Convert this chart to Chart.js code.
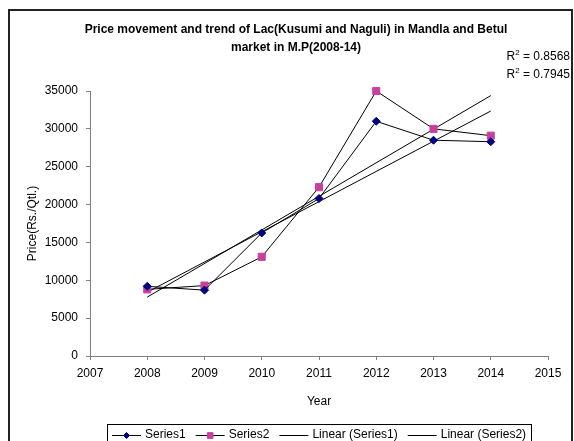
<!DOCTYPE html>
<html>
<head>
<meta charset="utf-8">
<script src="https://cdn.jsdelivr.net/npm/chart.js@4/dist/chart.umd.min.js"></script>
<style>
  html, body { margin: 0; padding: 0; background: #fff; }
  canvas { display: block; }
</style>
</head>
<body>
<canvas id="c" width="574" height="441"></canvas>
<script>
// ---- data ----
const years = [2008, 2009, 2010, 2011, 2012, 2013, 2014];
const series1 = [9200, 8700, 16250, 20800, 31000, 28500, 28300];
const series2 = [8800, 9300, 13100, 22300, 35000, 30000, 29100];
const seriesNames = ['Series1', 'Series2', 'Linear (Series1)', 'Linear (Series2)'];
const r2Labels = ['0.8568', '0.7945'];
const titleLines = ['Price movement and trend of Lac(Kusumi and Naguli) in Mandla and Betul', 'market in M.P(2008-14)'];
const yTicks = [0, 5000, 10000, 15000, 20000, 25000, 30000, 35000];
const xTicks = [2007, 2008, 2009, 2010, 2011, 2012, 2013, 2014, 2015];

// least-squares linear trend (as Excel's "Linear" trendline)
function trend(xs, ys) {
  const n = xs.length;
  const mx = xs.reduce((a, b) => a + b, 0) / n;
  const my = ys.reduce((a, b) => a + b, 0) / n;
  let sxy = 0, sxx = 0;
  for (let i = 0; i < n; i++) { sxy += (xs[i] - mx) * (ys[i] - my); sxx += (xs[i] - mx) ** 2; }
  const b = sxy / sxx, a = my - b * mx;
  return [xs[0], xs[n - 1]].map(x => ({ x, y: a + b * x }));
}
const pts = arr => years.map((x, i) => ({ x, y: arr[i] }));

const FONT = '"Liberation Sans", Arial, sans-serif';
const S1C = '#000080', S2C = '#C8409E';
const LEG_TOP = 424, LEG_Y = 435;

const decor = {
  id: 'decor',
  beforeDraw(chart) {
    const ctx = chart.ctx;
    ctx.save();
    ctx.fillStyle = '#fff';
    ctx.fillRect(0, 0, chart.width, chart.height);
    ctx.restore();
  },
  afterDraw(chart) {
    const ctx = chart.ctx;
    ctx.save();
    // outer border
    ctx.strokeStyle = '#222';
    ctx.lineWidth = 2;
    ctx.strokeRect(9, 10, 563, 450);
    // title
    ctx.fillStyle = '#000';
    ctx.font = 'bold 12px ' + FONT;
    ctx.textAlign = 'center';
    ctx.textBaseline = 'middle';
    ctx.fillText(titleLines[0], 296, 30);
    ctx.fillText(titleLines[1], 296, 48);
    // R^2 labels
    [57, 75].forEach((y, i) => {
      const rest = ' = ' + r2Labels[i];
      ctx.font = '12px ' + FONT;
      const wR = ctx.measureText('R').width;
      const wRest = ctx.measureText(rest).width;
      ctx.font = '8px ' + FONT;
      const w2 = ctx.measureText('2').width;
      const x = 570 - (wR + w2 + wRest);
      ctx.textAlign = 'left';
      ctx.font = '12px ' + FONT;
      ctx.fillText('R', x, y);
      ctx.font = '8px ' + FONT;
      ctx.fillText('2', x + wR, y - 4);
      ctx.font = '12px ' + FONT;
      ctx.fillText(rest, x + wR + w2, y);
    });
    // legend
    ctx.font = '12px ' + FONT;
    const ds = chart.data.datasets;
    const lineW = 29, gap = 4, spacing = 10, pad = 5;
    let total = 0;
    ds.forEach((d, i) => { total += lineW + gap + ctx.measureText(d.label).width + (i ? spacing : 0); });
    const cx = (chart.chartArea.left + chart.chartArea.right) / 2;
    const boxL = Math.round(cx - total / 2 - pad);
    const boxW = Math.round(total + 2 * pad);
    ctx.strokeStyle = '#000';
    ctx.lineWidth = 1;
    ctx.strokeRect(boxL + 0.5, LEG_TOP + 0.5, boxW, 40);
    let x = boxL + pad;
    ds.forEach((d, i) => {
      if (i) x += spacing;
      ctx.strokeStyle = '#000';
      ctx.lineWidth = 1;
      ctx.beginPath();
      ctx.moveTo(x, LEG_Y + 0.5);
      ctx.lineTo(x + lineW, LEG_Y + 0.5);
      ctx.stroke();
      if (d.pointRadius > 0) {
        ctx.fillStyle = d.pointBackgroundColor;
        ctx.strokeStyle = d.pointBorderColor;
        ctx.lineWidth = 1;
        Chart.helpers.drawPoint(ctx, { pointStyle: d.pointStyle, radius: d.pointRadius - 1, borderWidth: 1, rotation: 0 }, x + lineW / 2, LEG_Y + 0.5);
      }
      ctx.fillStyle = '#000';
      ctx.textAlign = 'left';
      ctx.textBaseline = 'middle';
      ctx.font = '12px ' + FONT;
      ctx.fillText(d.label, x + lineW + gap, LEG_Y);
      x += lineW + gap + ctx.measureText(d.label).width;
    });
    ctx.restore();
  }
};

new Chart(document.getElementById('c'), {
  type: 'scatter',
  data: {
    datasets: [
      { label: seriesNames[0], data: pts(series1), showLine: true, borderColor: '#000', borderWidth: 1, clip: false,
        pointStyle: 'rectRot', pointRadius: 4, pointBackgroundColor: S1C, pointBorderColor: S1C, pointBorderWidth: 1 },
      { label: seriesNames[1], data: pts(series2), showLine: true, borderColor: '#000', borderWidth: 1, clip: false,
        pointStyle: 'rect', pointRadius: 5, pointBackgroundColor: S2C, pointBorderColor: S2C, pointBorderWidth: 1 },
      { label: seriesNames[2], data: trend(years, series1), showLine: true, borderColor: '#000', borderWidth: 1, pointRadius: 0, clip: false },
      { label: seriesNames[3], data: trend(years, series2), showLine: true, borderColor: '#000', borderWidth: 1, pointRadius: 0, clip: false }
    ]
  },
  options: {
    responsive: false,
    animation: false,
    devicePixelRatio: 1,
    layout: { padding: { top: 91, right: 26, left: 0, bottom: 0 } },
    plugins: { legend: { display: false }, title: { display: false }, tooltip: { enabled: false } },
    scales: {
      x: {
        type: 'linear', min: xTicks[0], max: xTicks[xTicks.length - 1],
        afterFit(s) { s.height = 85; },
        afterBuildTicks(s) { s.ticks = xTicks.map(v => ({ value: v })); },
        ticks: { font: { family: FONT, size: 12 }, color: '#000', padding: 6, callback: v => String(v), maxRotation: 0 },
        grid: { drawOnChartArea: false, drawTicks: true, tickLength: 4, color: '#808080' },
        border: { color: '#808080', width: 1 },
        title: { display: true, text: 'Year', font: { family: FONT, size: 12 }, color: '#000', padding: { top: 0, bottom: 32 } }
      },
      y: {
        min: yTicks[0], max: yTicks[yTicks.length - 1],
        afterFit(s) { s.width = 90; },
        afterBuildTicks(s) { s.ticks = yTicks.map(v => ({ value: v })); },
        ticks: { font: { family: FONT, size: 12 }, color: '#000', padding: 8, callback: v => String(v) },
        grid: { drawOnChartArea: false, drawTicks: true, tickLength: 4, color: '#808080' },
        border: { color: '#808080', width: 1 },
        title: { display: true, text: 'Price(Rs./Qtl.)', font: { family: FONT, size: 12 }, color: '#000', padding: { top: 25, bottom: 0 } }
      }
    }
  },
  plugins: [decor]
});
</script>
</body>
</html>
